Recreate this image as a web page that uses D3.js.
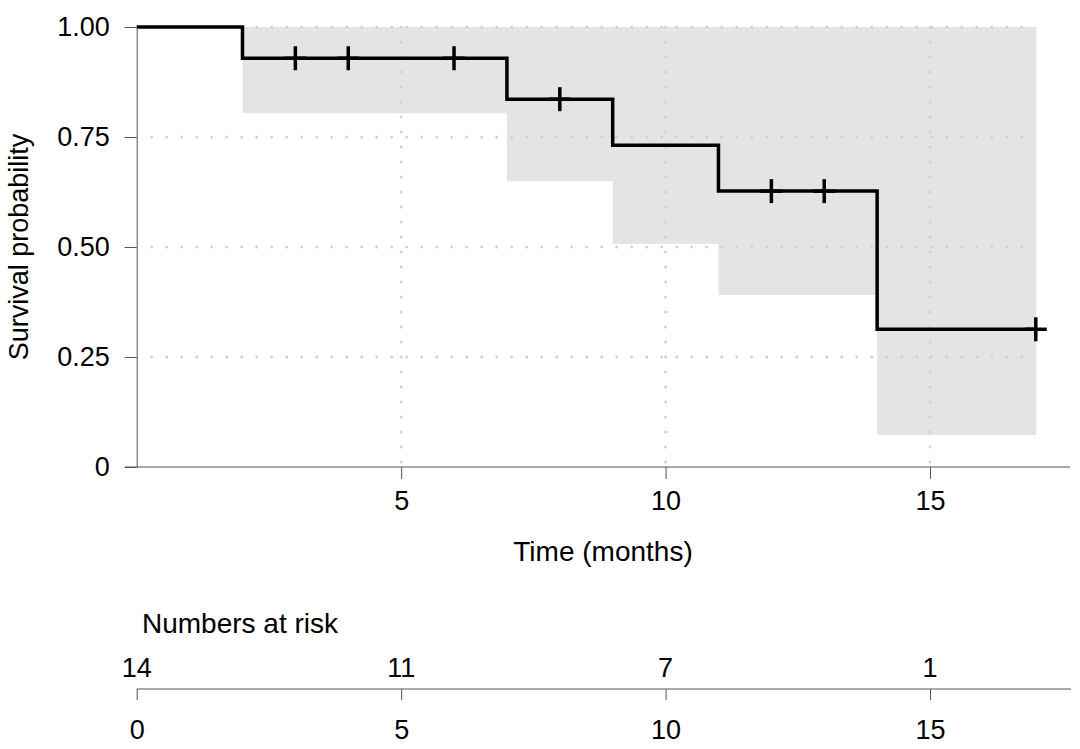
<!DOCTYPE html>
<html>
<head>
<meta charset="utf-8">
<script src="https://cdn.jsdelivr.net/npm/d3@7"></script>
<style>
  html, body { margin: 0; padding: 0; background: #fff; }
  svg { display: block; font-family: "Liberation Sans", Arial, Helvetica, sans-serif; }
</style>
</head>
<body>
<svg id="chart" width="1080" height="749"></svg>
<script>
// ---- data ----
const stepTimes = [0, 2, 7, 9, 11, 14];
const survival  = [1.000, 0.929, 0.836, 0.731, 0.627, 0.313];
const lowerCI   = [1.000, 0.804, 0.650, 0.507, 0.391, 0.073];
const upperCI   = [1.000, 1.000, 1.000, 1.000, 1.000, 1.000];
const endTime = 17;
const censorTimes = [3, 4, 6, 8, 12, 13, 17];
const riskTimes  = [0, 5, 10, 15];
const riskCounts = [14, 11, 7, 1];
const xTicks = [5, 10, 15];
const yTicks = [0, 0.25, 0.5, 0.75, 1.0];
const yTickLabels = ["0", "0.25", "0.50", "0.75", "1.00"];

// ---- layout ----
const svg = d3.select("#chart");
const x = d3.scaleLinear().domain([0, endTime]).range([136.7, 1035.8]);
const y = d3.scaleLinear().domain([0, 1]).range([467, 27]);
const FS = 27;
const FT = 28;
const axisCol = "#555";

function survAt(t) {
  let i = d3.bisectRight(stepTimes, t) - 1;
  return survival[Math.max(0, i)];
}

// CI band (from first drop onwards, as in reference)
const ciData = [];
for (let i = 1; i < stepTimes.length; i++) {
  const t1 = i + 1 < stepTimes.length ? stepTimes[i + 1] : endTime;
  ciData.push({t0: stepTimes[i], t1: t1, lo: lowerCI[i], hi: upperCI[i]});
}
svg.append("g").selectAll("rect").data(ciData).join("rect")
  .attr("x", d => x(d.t0))
  .attr("width", d => x(d.t1) - x(d.t0) + 0.5)
  .attr("y", d => y(d.hi))
  .attr("height", d => y(d.lo) - y(d.hi))
  .attr("fill", "#e4e4e4");

// grid
const grid = svg.append("g").attr("stroke", "#d2d2d2").attr("stroke-width", 3)
  .attr("stroke-linecap", "round").attr("stroke-dasharray", "0,15");
grid.selectAll("line.v").data(xTicks).join("line").attr("class", "v")
  .attr("x1", d => x(d)).attr("x2", d => x(d))
  .attr("y1", y(1)).attr("y2", y(0));
grid.selectAll("line.h").data(yTicks.filter(d => d > 0)).join("line").attr("class", "h")
  .attr("x1", x(0) + 15).attr("x2", x(endTime))
  .attr("y1", d => y(d)).attr("y2", d => y(d));

// KM step line
const stepPts = [];
for (let i = 0; i < stepTimes.length; i++) {
  stepPts.push([stepTimes[i], survival[i]]);
}
stepPts.push([endTime, survival[survival.length - 1]]);
const line = d3.line().x(d => x(d[0])).y(d => y(d[1])).curve(d3.curveStepAfter);
svg.append("path").datum(stepPts)
  .attr("d", line)
  .attr("fill", "none").attr("stroke", "#000").attr("stroke-width", 3.5)
  .attr("stroke-linejoin", "miter");

// censor marks (+)
const cg = svg.append("g").attr("stroke", "#000").attr("stroke-width", 3.5);
censorTimes.forEach(t => {
  const cx = x(t), cy = y(survAt(t));
  cg.append("line").attr("x1", cx).attr("x2", cx).attr("y1", cy - 12).attr("y2", cy + 12);
  cg.append("line").attr("x1", cx - 11).attr("x2", cx + 11).attr("y1", cy).attr("y2", cy);
});

// y axis
const yAxis = d3.axisLeft(y).tickValues(yTicks).tickSize(12).tickSizeOuter(0)
  .tickPadding(15).tickFormat((d, i) => yTickLabels[i]);
const gy = svg.append("g").attr("transform", `translate(${x(0)},0)`).call(yAxis);
gy.select(".domain").attr("stroke", axisCol);
gy.selectAll(".tick line").attr("stroke", axisCol);
gy.selectAll("text").attr("font-size", FS).attr("fill", "#000")
  .attr("font-family", "Liberation Sans, Arial, sans-serif");

// x axis
const xAxis = d3.axisBottom(x).tickValues(xTicks).tickSize(12).tickSizeOuter(0)
  .tickPadding(12).tickFormat(d3.format("d"));
const gx = svg.append("g").attr("transform", `translate(0,${y(0)})`).call(xAxis);
gx.select(".domain").remove();
gx.append("line").attr("x1", 125).attr("x2", 1070).attr("y1", 0).attr("y2", 0)
  .attr("stroke", axisCol);
gx.selectAll(".tick line").attr("stroke", axisCol);
gx.selectAll("text").attr("font-size", FS).attr("fill", "#000")
  .attr("font-family", "Liberation Sans, Arial, sans-serif");

// axis titles
svg.append("text").attr("x", 603).attr("y", 561).attr("text-anchor", "middle")
  .attr("font-size", FT).text("Time (months)");
svg.append("text").attr("transform", "translate(28,247) rotate(-90)")
  .attr("text-anchor", "middle").attr("font-size", FS).text("Survival probability");

// numbers at risk table
svg.append("text").attr("x", 142).attr("y", 633).attr("font-size", FT).text("Numbers at risk");
svg.append("g").selectAll("text").data(riskTimes).join("text")
  .attr("x", d => x(d)).attr("y", 677).attr("text-anchor", "middle")
  .attr("font-size", FS).text((d, i) => riskCounts[i]);
const rAxis = d3.axisBottom(x).tickValues(riskTimes).tickSize(11).tickSizeOuter(0)
  .tickPadding(20).tickFormat(d3.format("d"));
const gr = svg.append("g").attr("transform", "translate(0,689)").call(rAxis);
gr.select(".domain").remove();
gr.append("line").attr("x1", x(0)).attr("x2", 1071).attr("y1", 0).attr("y2", 0)
  .attr("stroke", axisCol);
gr.selectAll(".tick line").attr("stroke", axisCol);
gr.selectAll("text").attr("font-size", FS).attr("fill", "#000")
  .attr("font-family", "Liberation Sans, Arial, sans-serif");
</script>
</body>
</html>
